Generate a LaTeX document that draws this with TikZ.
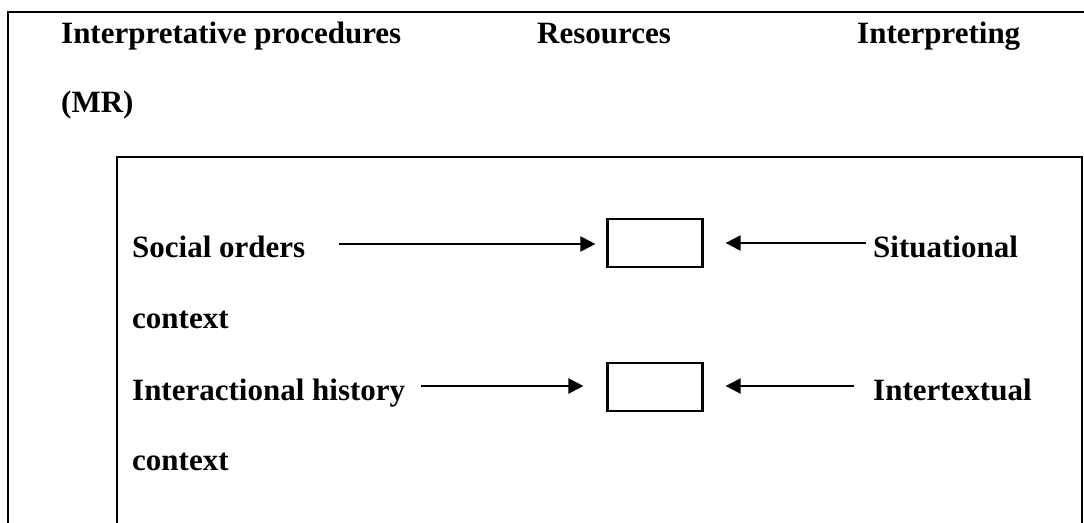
\documentclass[tikz,border=0pt]{standalone}
\usepackage{fontspec}
\setmainfont{Liberation Serif}
\usetikzlibrary{arrows.meta}
\begin{document}
\begin{tikzpicture}[x=1pt,y=-1pt,
  lbl/.style={anchor=base west,inner sep=0pt,font=\fontsize{31}{37}\selectfont\bfseries},
  frame/.style={line width=2.8pt},
  slot/.style={draw,line width=2.2pt,minimum width=95pt,minimum height=48pt,inner sep=0pt},
  arr/.style={line width=2.2pt,-{Triangle[length=15pt,width=15pt]}}]
  \useasboundingbox (0,0) rectangle (1084,522);
  % outer frame (open at bottom and right)
  \draw[frame] (8,523) -- (8,12) -- (1085,12);
  % inner frame (open at bottom)
  \draw[frame] (117,523) -- (117,157) -- (1082,157) -- (1082,523);

  % column headings
  \node[lbl] (hproc) at (61,43) {Interpretative procedures};
  \node[lbl] (hres)  at (537,43) {Resources};
  \node[lbl] (hint)  at (857,43) {Interpreting};
  \node[lbl] (hmr)   at (61,112) {(MR)};

  % rows
  \node[lbl] (soc)  at (132,257) {Social orders};
  \node[lbl] (sit)  at (873,257) {Situational};
  \node[lbl] (ctx1) at (132,328) {context};
  \node[lbl] (iah)  at (132,400) {Interactional history};
  \node[lbl] (itx)  at (873,400) {Intertextual};
  \node[lbl] (ctx2) at (132,470) {context};

  % resource slots
  \node[slot] (b1) at (655,243) {};
  \node[slot] (b2) at (655,387) {};

  % arrow start points
  \coordinate (s1l) at (339,244);
  \coordinate (s1r) at (866,243);
  \coordinate (s2l) at (421,386);
  \coordinate (s2r) at (854,386);

  \draw[arr,shorten >=11pt] (s1l) -- (s1l -| b1.west);
  \draw[arr,shorten >=22pt] (s1r) -- (s1r -| b1.east);
  \draw[arr,shorten >=23pt] (s2l) -- (s2l -| b2.west);
  \draw[arr,shorten >=22pt] (s2r) -- (s2r -| b2.east);
\end{tikzpicture}
\end{document}
